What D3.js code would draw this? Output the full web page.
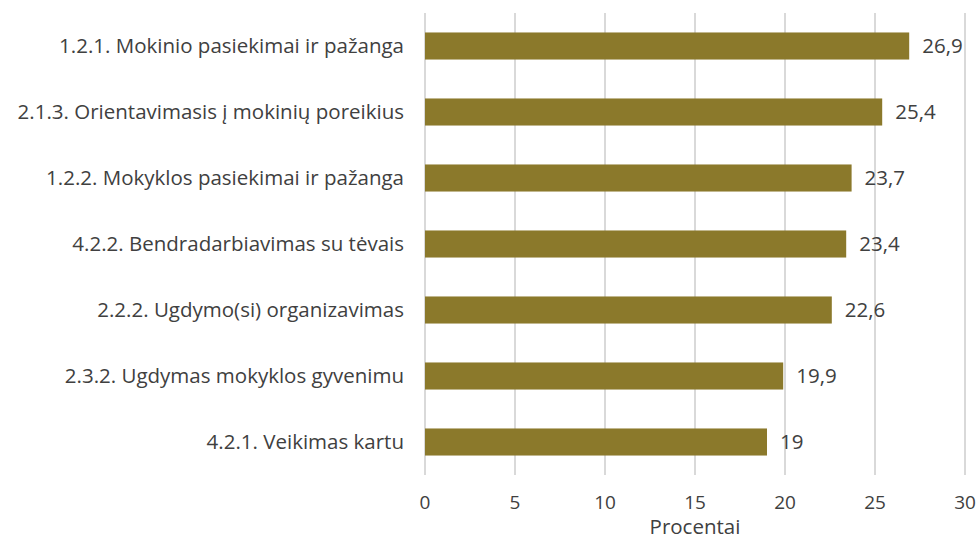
<!DOCTYPE html>
<html><head><meta charset="utf-8">
<script src="https://cdn.jsdelivr.net/npm/d3@7"></script>
<style>body{margin:0;background:#fff}svg{display:block}text{font-family:"Open Sans","Noto Sans",sans-serif;fill:#404040}</style>
</head><body><svg id="c" width="978" height="539"></svg>
<script>
const categories = ["1.2.1. Mokinio pasiekimai ir pažanga","2.1.3. Orientavimasis į mokinių poreikius","1.2.2. Mokyklos pasiekimai ir pažanga","4.2.2. Bendradarbiavimas su tėvais","2.2.2. Ugdymo(si) organizavimas","2.3.2. Ugdymas mokyklos gyvenimu","4.2.1. Veikimas kartu"];
const values = [26.9, 25.4, 23.7, 23.4, 22.6, 19.9, 19];
const valueLabels = ["26,9","25,4","23,7","23,4","22,6","19,9","19"];
const xTicks = [0,5,10,15,20,25,30];
const axisTitle = "Procentai";

const svg = d3.select("#c");
const x = d3.scaleLinear().domain([0,30]).range([425,965]);
const y = d3.scaleBand().domain(categories).range([13,475]).paddingInner(0.59).paddingOuter(0.295);

svg.append("g").selectAll("line").data(xTicks).join("line")
  .attr("x1",d=>x(d)).attr("x2",d=>x(d)).attr("y1",13).attr("y2",475)
  .attr("stroke","#d9d9d9").attr("stroke-width",2);

svg.append("g").selectAll("rect").data(values).join("rect")
  .attr("x",x(0)).attr("y",(d,i)=>y(categories[i]))
  .attr("width",d=>x(d)-x(0)).attr("height",y.bandwidth())
  .attr("fill","#8b792b");

svg.append("g").selectAll("text").data(values).join("text")
  .attr("x",d=>x(d)+13).attr("y",(d,i)=>y(categories[i])+y.bandwidth()/2)
  .attr("dy","0.35em").attr("font-size",20.5).text((d,i)=>valueLabels[i]);

svg.append("g").selectAll("text").data(categories).join("text")
  .attr("x",404).attr("y",d=>y(d)+y.bandwidth()/2).attr("dy","0.35em")
  .attr("text-anchor","end").attr("font-size",20.5).text(d=>d);

svg.append("g").selectAll("text").data(xTicks).join("text")
  .attr("x",d=>x(d)).attr("y",502).attr("dy","0.35em")
  .attr("text-anchor","middle").attr("font-size",19).text(d=>d);

svg.append("text").attr("x",x(15)).attr("y",527).attr("dy","0.35em")
  .attr("text-anchor","middle").attr("font-size",20.5).text(axisTitle);
</script></body></html>
